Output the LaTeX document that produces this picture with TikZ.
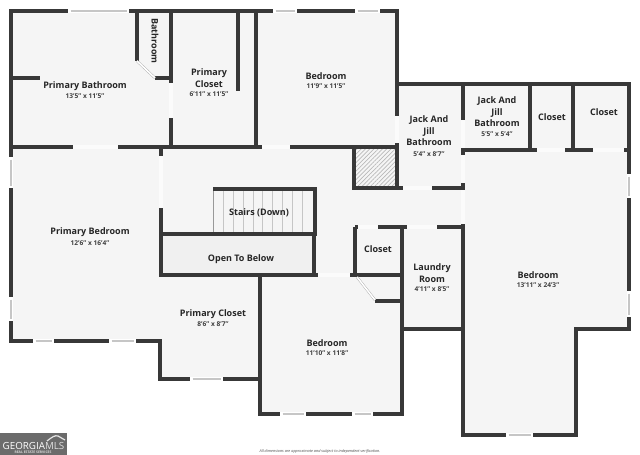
\documentclass[tikz,border=0pt]{standalone}
\usepackage{fontspec}
\setmainfont{Open Sans}
\usetikzlibrary{patterns.meta}
\usetikzlibrary{calc}
\definecolor{wallc}{HTML}{383838}
\definecolor{floorc}{HTML}{F5F5F5}
\definecolor{openc}{HTML}{FBFBFB}
\definecolor{glassc}{HTML}{C6C6C6}
\definecolor{logoc}{HTML}{6B6B6B}
\tikzset{
  wall/.style={draw=wallc, line width=3.3pt},
  gap/.style={draw=openc, line width=3.3pt},
  tread/.style={draw=gray!45, line width=0.4pt},
  roomlabel/.style={align=center, font=\fontsize{9}{11.4}\selectfont\bfseries, text=black!85, inner sep=0pt},
  roomsize/.style={font=\fontsize{6.6}{8}\selectfont\bfseries, text=black!75, inner sep=0pt},
}
% window in a wall: white frame with a grey pane
\newcommand{\hwin}[3]{
\draw[draw=white, line width=3.6pt] (#1,#3) -- (#2,#3);
\draw[draw=glassc, line width=2.8pt] ($(#1,#3)+(2.5,0)$) -- ($(#2,#3)+(-2.5,0)$);
}
\newcommand{\vwin}[3]{
\draw[draw=white, line width=3.6pt] (#3,#1) -- (#3,#2);
\draw[draw=glassc, line width=2.8pt] ($(#3,#1)+(0,2.5)$) -- ($(#3,#2)+(0,-2.5)$);
}
\begin{document}
\begin{tikzpicture}[x=1pt, y=-1pt]
\useasboundingbox (0,0) rectangle (640,455);
\fill[white] (0,0) rectangle (640,455);
% floor
\fill[floorc] (11,11) -- (397,11) -- (397,84) -- (629,84) -- (629,329) -- (576,329) -- (576,435) -- (463,435) -- (463,329) -- (402,329) -- (402,414) -- (260,414) -- (260,379) -- (160,379) -- (160,341) -- (11,341) -- cycle;
\fill[black!6] (163,236) rectangle (312,273);
\fill[pattern={Lines[angle=45, distance=3pt, line width=0.7pt]}, pattern color=gray!55] (355,149) rectangle (395,186);
% stairs
\foreach \tx in {223,233,243,253,262,272,282,292,302} {
\draw[tread] (\tx,191) -- (\tx,232);
}
\draw[tread, draw=gray!80] (213,189) -- (213,233);
% outer walls
\draw[wall, line join=miter] (11,11) -- (397,11) -- (397,84) -- (629,84) -- (629,329) -- (576,329) -- (576,435) -- (463,435) -- (463,329) -- (402,329) -- (402,414) -- (260,414) -- (260,379) -- (160,379) -- (160,341) -- (11,341) -- cycle;
% inner walls
\draw[wall] (137,11) -- (137,61);
\draw[wall] (155,78) -- (171,78);
\draw[wall] (171,11) -- (171,147);
\draw[wall] (11,78) -- (40,78);
\draw[wall] (238,11) -- (238,91);
\draw[wall] (256,11) -- (256,147);
\draw[wall] (11,147) -- (397,147);
\draw[wall] (161,147) -- (161,277);
\draw[wall] (397,84) -- (397,188);
\draw[wall] (354,147) -- (354,188) -- (463,188);
\draw[wall] (463,84) -- (463,329);
\draw[wall] (463,150) -- (629,150);
\draw[wall] (530,84) -- (530,150);
\draw[wall] (573,84) -- (573,150);
\draw[wall] (213,189) -- (315,189) -- (315,234) -- (161,234);
\draw[wall] (314,234) -- (314,275);
\draw[wall] (160,275) -- (402,275);
\draw[wall] (260,275) -- (260,414);
\draw[wall] (355,227) -- (463,227);
\draw[wall] (355,227) -- (355,275);
\draw[wall] (402,227) -- (402,329);
\draw[wall] (375,301) -- (402,301);
% door leaves
\draw[draw=gray!70, line width=0.4pt, double=white, double distance=1.6pt] (137,61) -- (155,78);
\draw[draw=gray!70, line width=0.4pt, double=white, double distance=1.6pt] (357,277) -- (375,300);
% door openings
\draw[gap] (73,147) -- (118,147);
\draw[gap] (262,147) -- (290,147);
\draw[gap] (171,83) -- (171,118);
\draw[gap] (161,156) -- (161,208);
\draw[gap] (397,116) -- (397,143);
\draw[gap] (463,120) -- (463,148);
\draw[gap] (463,155) -- (463,183);
\draw[gap] (463,190) -- (463,224);
\draw[gap] (403,188) -- (432,188);
\draw[gap] (537,150) -- (565,150);
\draw[gap] (593,150) -- (624,150);
\draw[gap] (358,227) -- (378,227);
\draw[gap] (407,227) -- (437,227);
\draw[gap] (318,275) -- (350,275);
% windows
\hwin{68}{129}{11}
\hwin{273}{297}{11}
\hwin{355}{380}{11}
\vwin{157}{188}{11}
\vwin{297}{321}{11}
\hwin{33}{54}{341}
\hwin{109}{136}{341}
\hwin{190}{223}{379}
\hwin{280}{306}{414}
\hwin{352}{373}{414}
\hwin{506}{533}{435}
\vwin{174}{198}{629}
\vwin{291}{317}{629}
% rooms
\node[roomlabel] (bathA) at (85,86) {Primary Bathroom};
\node[roomsize] (bathAsize) at (85,96) {13'5'' x 11'5''};
\node[roomlabel, rotate=-90] (bathB) at (155,41) {Bathroom};
\node[roomlabel] (closetA) at (209,78) {Primary\\Closet};
\node[roomsize] (closetAsize) at (209,94) {6'11'' x 11'5''};
\node[roomlabel] (bedA) at (326,76) {Bedroom};
\node[roomsize] (bedAsize) at (326,86) {11'9'' x 11'5''};
\node[roomlabel] (jjA) at (429,131) {Jack And\\Jill\\Bathroom};
\node[roomsize] (jjAsize) at (429,154) {5'4'' x 8'7''};
\node[roomlabel] (jjB) at (497,112) {Jack And\\Jill\\Bathroom};
\node[roomsize] (jjBsize) at (497,134) {5'5'' x 5'4''};
\node[roomlabel] (closetB) at (552,117) {Closet};
\node[roomlabel] (closetC) at (604,112) {Closet};
\node[roomlabel] (stairs) at (259,213) {Stairs (Down)};
\node[roomlabel] (openbelow) at (241,259) {Open To Below};
\node[roomlabel] (bedmain) at (90,232) {Primary Bedroom};
\node[roomsize] (bedmainsize) at (90,243) {12'6'' x 16'4''};
\node[roomlabel] (closetD) at (213,314) {Primary Closet};
\node[roomsize] (closetDsize) at (213,324) {8'6'' x 8'7''};
\node[roomlabel] (bedB) at (327,343) {Bedroom};
\node[roomsize] (bedBsize) at (327,353) {11'10'' x 11'8''};
\node[roomlabel] (closetE) at (378,249) {Closet};
\node[roomlabel] (laundry) at (432,273) {Laundry\\Room};
\node[roomsize] (laundrysize) at (432,289) {4'11'' x 8'5''};
\node[roomlabel] (bedC) at (538,275) {Bedroom};
\node[roomsize] (bedCsize) at (538,285) {13'11'' x 24'3''};
% logo and footnote
\fill[logoc] (0,433) rectangle (67,455);
\draw[draw=white!80!gray, line width=1.2pt] (47,441) .. controls (52,437) and (55,435) .. (58,436) -- (65,440);
\node[inner sep=0pt, text=white, font=\fontsize{9.8}{12}\selectfont] (logo) at (33.5,445.5) {GEORGIA\textcolor{white!75!gray}{MLS}};
\node[inner sep=0pt, text=white!70!gray, font=\fontsize{3.4}{4}\selectfont\bfseries] (logosub) at (33,452.5) {REAL ESTATE SERVICES};
\node[inner sep=0pt, text=black!70, font=\fontsize{3.8}{5}\selectfont\itshape] (footnote) at (320,451) {All dimensions are approximate and subject to independent verification.};
\end{tikzpicture}
\end{document}
